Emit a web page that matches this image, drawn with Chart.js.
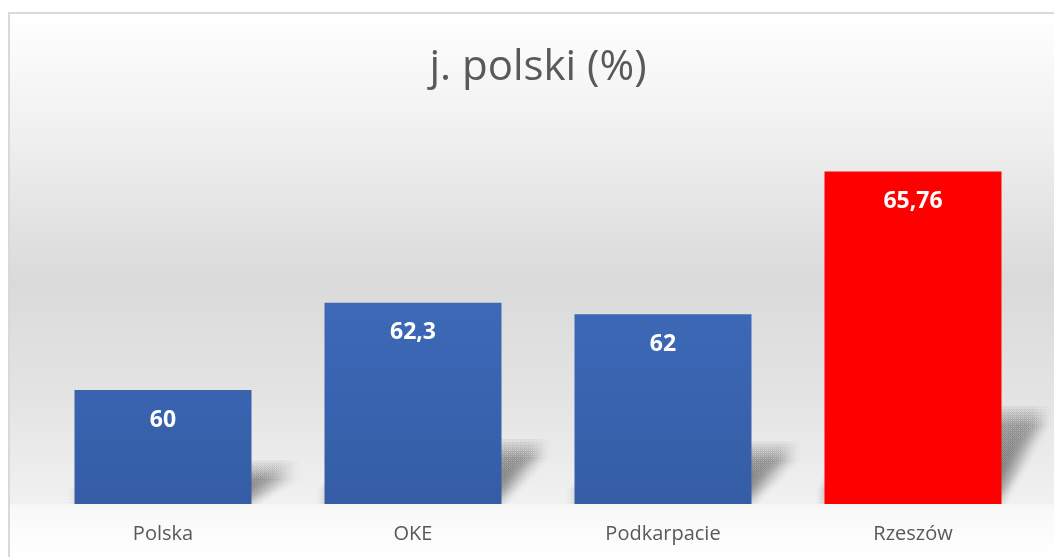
<!DOCTYPE html>
<html>
<head>
<meta charset="utf-8">
<script src="https://cdn.jsdelivr.net/npm/chart.js@4/dist/chart.umd.min.js"></script>
<style>
  html, body { margin: 0; padding: 0; background: #fff; }
  #wrap { position: relative; width: 1054px; height: 557px; }
</style>
</head>
<body>
<div id="wrap"><canvas id="chart"></canvas></div>
<script>
const categories = ["Polska", "OKE", "Podkarpacie", "Rzeszów"];
const values = [60, 62.3, 62, 65.76];
const barColors = ["blue", "blue", "blue", "red"];
const chartTitle = "j. polski (%)";
const BAR_FRACTION = 0.708;

function formatPl(v) {
  return String(v).replace(".", ",");
}

function drawShadows(chart) {
  const ctx = chart.ctx;
  const xs = chart.scales.x, ys = chart.scales.y;
  if (!xs || !ys) return;
  const base = chart.chartArea.bottom;
  const halfW = (xs.width / categories.length) * BAR_FRACTION / 2;
  ctx.save();
  values.forEach((v, i) => {
    const cx = xs.getPixelForValue(i);
    const top = ys.getPixelForValue(v);
    const left = cx - halfW, right = cx + halfW;
    const hgt = base - top;
    const sx = 42, sy = hgt * 0.25 + 6;
    const g = ctx.createLinearGradient(0, base, 0, base - sy);
    g.addColorStop(0, "rgba(0,0,0,0.016)");
    g.addColorStop(1, "rgba(0,0,0,0.006)");
    ctx.fillStyle = g;
    // crude box blur: same shape stamped many times with small offsets
    for (let ox = -9; ox <= 9; ox += 3) {
      for (let oy = -9; oy <= 9; oy += 3) {
        ctx.beginPath();
        ctx.moveTo(left + ox, base - 4 + oy);
        ctx.lineTo(right - 6 + ox, base - 4 + oy);
        ctx.lineTo(right + sx + ox, base - sy + oy);
        ctx.lineTo(left + sx + ox, base - sy + oy);
        ctx.closePath();
        ctx.fill();
      }
    }
  });
  ctx.restore();
}

// background, frame and bar shadows, drawn under everything
const backgroundPlugin = {
  id: "bg",
  beforeDraw(chart) {
    const ctx = chart.ctx;
    const w = chart.width, h = chart.height;
    const base = chart.chartArea.bottom;
    ctx.save();
    let g = ctx.createLinearGradient(0, 12, 0, h);
    const stop = y => Math.min(1, Math.max(0, (y - 12) / (h - 12)));
    g.addColorStop(0, "#ffffff");
    g.addColorStop(stop(140), "#efefef");
    g.addColorStop(stop(280), "#dadada");
    g.addColorStop(stop(400), "#e4e4e4");
    g.addColorStop(stop(base), "#f1f1f1");
    g.addColorStop(stop(base + 1), "#f8f8f8");
    g.addColorStop(1, "#ffffff");
    ctx.fillStyle = g;
    ctx.fillRect(9, 12, w - 9, h - 12);
    ctx.beginPath();
    ctx.rect(9, 12, w - 9, base - 12);
    ctx.clip();
    drawShadows(chart);
    ctx.restore();
    ctx.save();
    ctx.strokeStyle = "#d9d9d9";
    ctx.lineWidth = 2;
    ctx.beginPath();
    ctx.moveTo(9, h);
    ctx.lineTo(9, 13);
    ctx.lineTo(w, 13);
    ctx.stroke();
    ctx.restore();
  }
};

// value labels inside the bars
const valueLabelPlugin = {
  id: "valueLabels",
  afterDatasetsDraw(chart) {
    const ctx = chart.ctx;
    const meta = chart.getDatasetMeta(0);
    ctx.save();
    ctx.font = "bold 23px 'Open Sans'";
    ctx.fillStyle = "#ffffff";
    ctx.textAlign = "center";
    ctx.textBaseline = "middle";
    meta.data.forEach((bar, i) => {
      ctx.fillText(formatPl(values[i]), bar.x, bar.y + 30);
    });
    ctx.restore();
  }
};

function barFill(context) {
  const i = context.dataIndex;
  if (barColors[i] === "red") return "#ff0000";
  const area = context.chart.chartArea;
  if (!area) return "#4472c4";
  const bar = context.chart.getDatasetMeta(0).data[i];
  const top = bar && bar.y ? bar.y : area.top;
  const g = context.chart.ctx.createLinearGradient(0, top, 0, area.bottom);
  g.addColorStop(0, "#4473c6");
  g.addColorStop(1, "#355da6");
  return g;
}

new Chart(document.getElementById("chart"), {
  type: "bar",
  data: {
    labels: categories,
    datasets: [{
      data: values,
      backgroundColor: barFill,
      borderWidth: 0,
      categoryPercentage: 1,
      barPercentage: BAR_FRACTION
    }]
  },
  plugins: [backgroundPlugin, valueLabelPlugin],
  options: {
    responsive: true,
    maintainAspectRatio: false,
    animation: false,
    layout: { padding: { left: 38, right: 16, top: 12, bottom: -7 } },
    plugins: {
      legend: { display: false },
      tooltip: { enabled: false },
      title: {
        display: true,
        text: chartTitle,
        color: "#595959",
        font: { family: "'Open Sans'", size: 42, weight: "normal" },
        padding: { top: 31, bottom: 31 }
      }
    },
    scales: {
      x: {
        grid: { display: false, drawTicks: false },
        border: { display: false },
        ticks: {
          color: "#595959",
          font: { family: "'Open Sans'", size: 20 },
          padding: 18
        }
      },
      y: {
        display: false,
        min: 57,
        max: 67
      }
    }
  }
});
</script>
</body>
</html>
